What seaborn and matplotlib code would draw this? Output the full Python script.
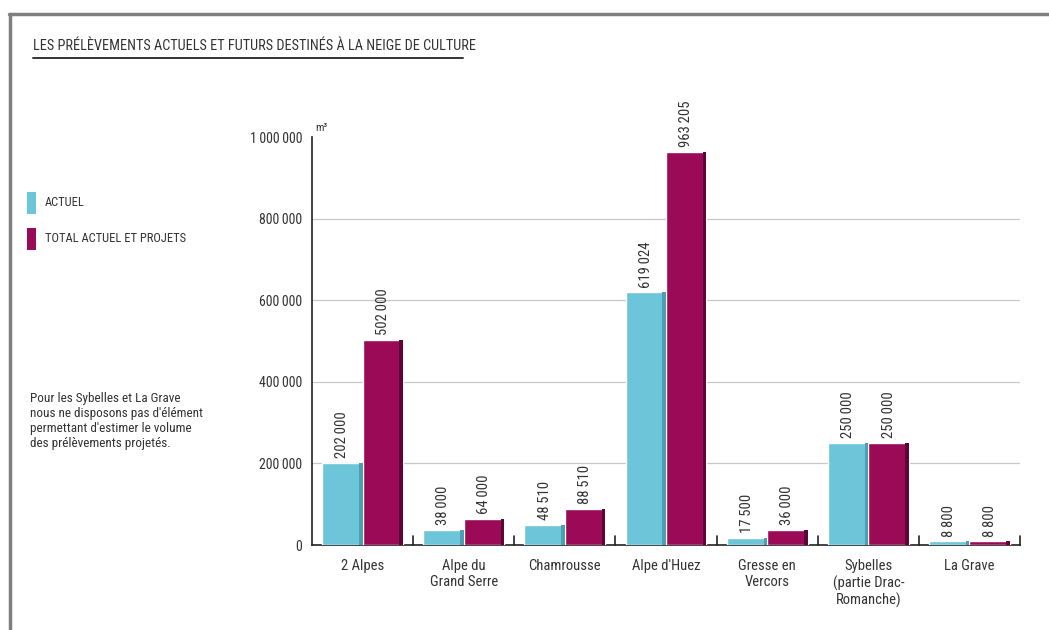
import pandas as pd
import numpy as np
import matplotlib.pyplot as plt
import seaborn as sns
from matplotlib.patches import Rectangle
from matplotlib.lines import Line2D
from matplotlib import font_manager

# ------------------------------------------------------------------------
# Data
# ------------------------------------------------------------------------
stations = ["2 Alpes", "Alpe du\nGrand Serre", "Chamrousse", "Alpe d'Huez",
            "Gresse en\nVercors", "Sybelles\n(partie Drac-\nRomanche)", "La Grave"]
actuel = [202000, 38000, 48510, 619024, 17500, 250000, 8800]
total = [502000, 64000, 88510, 963205, 36000, 250000, 8800]
series = ["ACTUEL", "TOTAL ACTUEL ET PROJETS"]
y_ticks = [0, 200000, 400000, 600000, 800000, 1000000]

colors = {"ACTUEL": "#6cc5d8", "TOTAL ACTUEL ET PROJETS": "#9a0a57"}
shades = {"ACTUEL": "#4a9fb4", "TOTAL ACTUEL ET PROJETS": "#5e0535"}

df = pd.DataFrame({
    "station": stations * 2,
    "serie": [series[0]] * len(stations) + [series[1]] * len(stations),
    "volume": actuel + total,
})


def fmt(v):
    return f"{v:,}".replace(",", "\u2009")


# pick a narrow font if one is installed
installed = {f.name for f in font_manager.fontManager.ttflist}
narrow = [n for n in ["Liberation Sans Narrow", "Roboto Condensed",
                      "DejaVu Sans Condensed", "Noto Sans Condensed"] if n in installed]

sns.set_style("white")
plt.rcParams["font.family"] = narrow + ["Liberation Sans", "DejaVu Sans"]
plt.rcParams["font.stretch"] = "condensed"

fig = plt.figure(figsize=(10.49, 6.30), dpi=100)
ax = fig.add_axes([0.2974, 0.1349, 0.675, 0.6476])

sns.barplot(data=df, x="station", y="volume", hue="serie", order=stations,
            hue_order=series, palette=colors, saturation=1, width=0.8,
            legend=False, ax=ax, zorder=3)

# darker right edge on each bar (pseudo-3D look) + value labels
for cont, s in zip(ax.containers, series):
    for rect, v in zip(cont.patches, cont.datavalues):
        x0, w, h = rect.get_x(), rect.get_width(), rect.get_height()
        ax.add_patch(Rectangle((x0 + w * 0.91, 0), w * 0.09, h,
                               color=shades[s], lw=0, zorder=4))
        ax.text(x0 + w / 2, h + 12000, fmt(int(v)), rotation=90,
                ha="center", va="bottom", fontsize=10.5, color="#333333",
                clip_on=False)

ax.set_xlim(-0.5, len(stations) - 0.5)
ax.set_ylim(0, 1000000)
ax.set_yticks(y_ticks)
ax.set_yticklabels([fmt(t) for t in y_ticks], fontsize=10, color="#333333")
for t in y_ticks[1:-1]:
    ax.axhline(t, color="#c8c8c8", lw=0.9, zorder=1)

ax.tick_params(axis="y", direction="in", length=18, width=1.2, color="#222222", pad=7)
ax.set_xticks(np.arange(len(stations)))
ax.set_xticklabels(stations, fontsize=10.5, color="#333333", linespacing=1.2)
ax.tick_params(axis="x", length=0, pad=10)
ax.set_xlabel("")
ax.set_ylabel("")

# small separators between categories on the x axis
for b in np.arange(len(stations)) + 0.5:
    ax.plot([b, b], [0, 22000], color="#222222", lw=1.2, zorder=5, clip_on=False)

sns.despine(ax=ax, top=True, right=True)
for side in ["left", "bottom"]:
    ax.spines[side].set_color("#222222")
    ax.spines[side].set_linewidth(1.2)

ax.text(0.005, 1.01, "m\u00b3", transform=ax.transAxes, fontsize=8,
        color="#333333", va="bottom", ha="left")

# title with underline
title_size = 10.3 if narrow else 8.2
fig.text(33 / 1049, 1 - 46 / 630, "LES PRÉLÈVEMENTS ACTUELS ET FUTURS DESTINÉS À LA NEIGE DE CULTURE",
         fontsize=title_size, color="#333333", va="center", ha="left")
fig.add_artist(Line2D([33 / 1049, 463 / 1049], [1 - 58 / 630, 1 - 58 / 630],
                      color="#333333", lw=1.4))

# frame of the original figure
fig.add_artist(Line2D([9 / 1049, 1.0], [1 - 14 / 630, 1 - 14 / 630], color="#808080", lw=2.5))
fig.add_artist(Line2D([10 / 1049, 10 / 1049], [0, 1 - 14 / 630], color="#808080", lw=2.5))

# legend
for i, s in enumerate(series):
    yc = [203, 239][i]
    fig.add_artist(Rectangle((27 / 1049, 1 - (yc + 11) / 630), 9 / 1049, 22 / 630,
                             color=colors[s], lw=0, transform=fig.transFigure))
    fig.text(45 / 1049, 1 - yc / 630, s, fontsize=9, color="#333333",
             va="center", ha="left")

fig.text(30 / 1049, 1 - 392 / 630,
         "Pour les Sybelles et La Grave\nnous ne disposons pas d'élément\n"
         "permettant d'estimer le volume\ndes prélèvements projetés.",
         fontsize=9.5, color="#333333", va="top", ha="left", linespacing=1.2)

fig.savefig("out.png", dpi=100)
